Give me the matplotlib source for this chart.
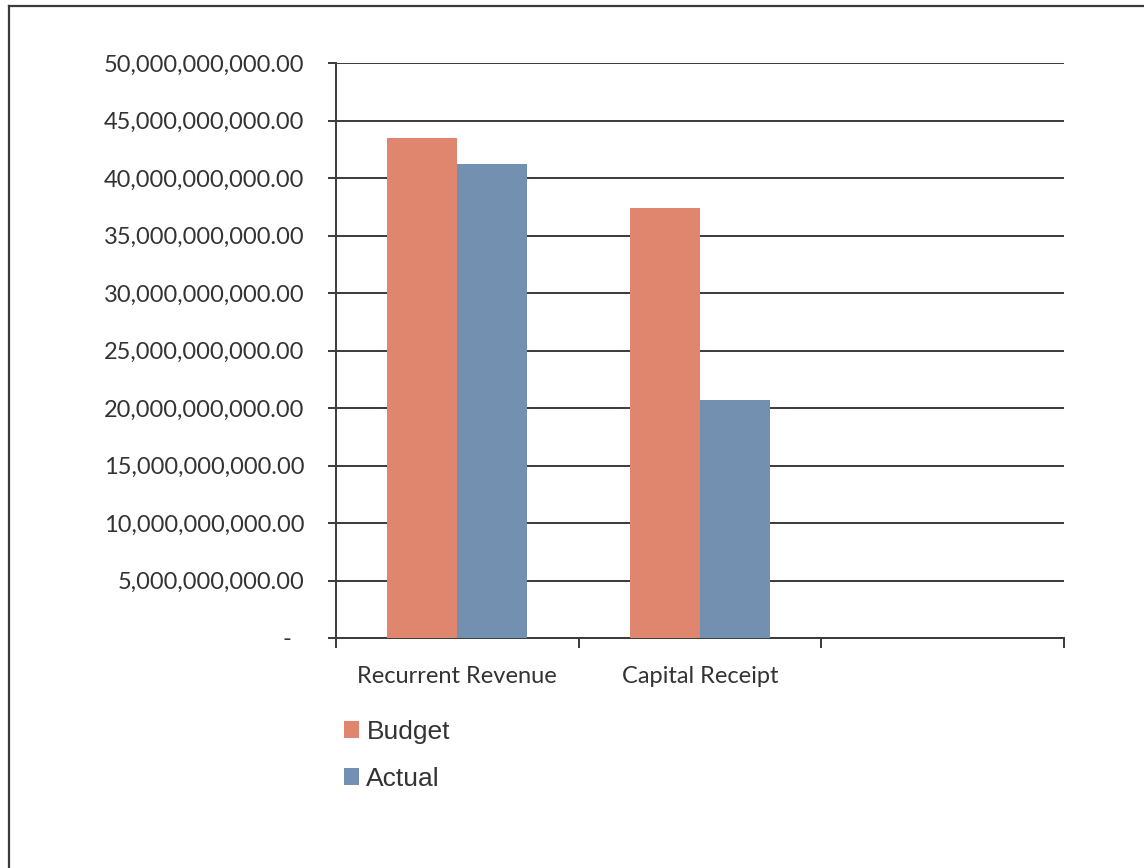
import numpy as np
import matplotlib.pyplot as plt
from matplotlib.lines import Line2D
from matplotlib.ticker import FuncFormatter

# Data
categories = ["Recurrent Revenue", "Capital Receipt", ""]
budget = [43.5e9, 37.4e9]
actual = [41.2e9, 20.7e9]
y_ticks = np.arange(0, 50e9 + 1, 5e9)

budget_color = '#E0866E'
actual_color = '#7490B0'
line_color = '#3a3a3a'

fig = plt.figure(figsize=(11.44, 8.68), dpi=100)
ax = fig.add_axes([336 / 1144, 1 - 638 / 868, (1064 - 336) / 1144, (638 - 63) / 868])

x = np.arange(len(budget))
w = 0.288
b1 = ax.bar(x - w / 2, budget, width=w, color=budget_color, label='Budget', zorder=3)
b2 = ax.bar(x + w / 2, actual, width=w, color=actual_color, label='Actual', zorder=3)

ax.set_xlim(-0.5, len(categories) - 0.5)
ax.set_ylim(0, 50e9)

# y axis
ax.set_yticks(y_ticks)
ax.yaxis.set_major_formatter(FuncFormatter(
    lambda v, p: '-  ' if v == 0 else '{:,.2f}'.format(v)))
ax.grid(axis='y', color=line_color, linewidth=1.4, zorder=0)
ax.tick_params(axis='y', length=6, width=1.4, color=line_color, pad=17,
               labelsize=17, labelcolor='#333333')

# x axis: boundary ticks + centred category labels
ax.set_xticks(np.arange(-0.5, len(categories), 1.0))
ax.set_xticklabels([])
ax.set_xticks(np.arange(len(categories)), minor=True)
ax.set_xticklabels(categories, minor=True)
ax.tick_params(axis='x', which='major', length=7, width=1.4, color=line_color, direction='out')
ax.tick_params(axis='x', which='minor', length=0, pad=20.5, labelsize=17, labelcolor='#333333')

for lbl in ax.get_yticklabels() + ax.get_xticklabels(minor=True):
    lbl.set_fontfamily('Lato')

for s in ['top', 'right']:
    ax.spines[s].set_visible(False)
for s in ['left', 'bottom']:
    ax.spines[s].set_color(line_color)
    ax.spines[s].set_linewidth(1.4)

# legend below the plot
fig.legend(handles=[b1, b2], loc='upper left', bbox_to_anchor=(320 / 1144, 1 - 696 / 868),
           frameon=False, prop={'family': 'Liberation Sans', 'size': 19},
           handlelength=0.58, handleheight=0.58, handletextpad=0.28, labelspacing=0.88,
           labelcolor='#333333')

# outer frame (left and top only)
fig.add_artist(Line2D([8.5 / 1144, 8.5 / 1144], [0, 1 - 5.5 / 868], color=line_color, linewidth=1.6))
fig.add_artist(Line2D([8.5 / 1144, 1], [1 - 5.5 / 868, 1 - 5.5 / 868], color=line_color, linewidth=1.6))

fig.savefig('out.png', dpi=100, facecolor='white')
